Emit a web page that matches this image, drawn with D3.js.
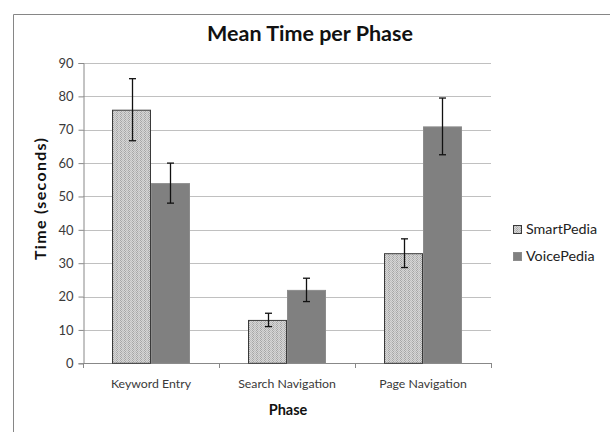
<!DOCTYPE html>
<html><head><meta charset="utf-8">
<script src="https://cdn.jsdelivr.net/npm/d3@7"></script>
<style>body{margin:0;background:#fff}svg{display:block}text{font-family:Lato,"Open Sans",sans-serif}</style>
</head><body>
<script>
const categories = ["Keyword Entry", "Search Navigation", "Page Navigation"];
const seriesNames = ["SmartPedia", "VoicePedia"];
const smartPedia = [76, 13, 33];
const voicePedia = [54, 22, 71];
const smartErr = [9.3, 2, 4.3];
const voiceErr = [6, 3.5, 8.5];
const yTicks = [0, 10, 20, 30, 40, 50, 60, 70, 80, 90];

const W = 610, H = 432;
const svg = d3.select("body").append("svg").attr("width", W).attr("height", H);
const defs = svg.append("defs");
const pat = defs.append("pattern").attr("id", "hatch").attr("patternUnits", "userSpaceOnUse")
  .attr("width", 4).attr("height", 4);
pat.append("rect").attr("width", 4).attr("height", 4).attr("fill", "#d6d6d6");
[[0,0],[1,1],[0,2],[1,3],[2,0],[3,1],[2,2],[3,3]].forEach(([px, py], k) => {
  pat.append("rect").attr("x", px).attr("y", py).attr("width", 1).attr("height", 1).attr("fill", k < 4 ? "#a6a6a6" : "#bdbdbd");
});

// frame
svg.append("path").attr("d", `M13.5,${H}V14.5H${W}`).attr("fill", "none").attr("stroke", "#868686").attr("stroke-width", 1);

const x0 = 83, x1 = 491, yTop = 63, yBot = 363.3;
const x = d3.scaleBand().domain(categories).range([x0, x1]).paddingInner(0).paddingOuter(0);
const y = d3.scaleLinear().domain([0, 90]).range([yBot, yTop]);

// gridlines
svg.append("g").selectAll("line").data(yTicks.slice(1)).join("line")
  .attr("x1", x0).attr("x2", x1).attr("y1", d => Math.round(y(d)) + 0.5).attr("y2", d => Math.round(y(d)) + 0.5)
  .attr("stroke", "#c0c0c0").attr("stroke-width", 1);

// y axis
const yAxis = d3.axisLeft(y).tickValues(yTicks).tickSize(5).tickPadding(5);
const gy = svg.append("g").attr("transform", `translate(${x0 + 0.5},0)`).call(yAxis);
gy.select(".domain").attr("stroke", "#888");
gy.selectAll(".tick line").attr("stroke", "#888");
gy.selectAll(".tick text").attr("font-size", 13).attr("fill", "#3a3a3a").attr("font-family", "Lato,sans-serif");

// x axis line
svg.append("line").attr("x1", x0).attr("x2", x1).attr("y1", Math.round(yBot) + 0.5).attr("y2", Math.round(yBot) + 0.5).attr("stroke", "#888");
svg.append("g").selectAll("line").data(d3.range(categories.length + 1)).join("line")
  .attr("x1", i => Math.round(x0 + i * x.bandwidth()) + 0.5).attr("x2", i => Math.round(x0 + i * x.bandwidth()) + 0.5)
  .attr("y1", Math.round(yBot)).attr("y2", Math.round(yBot) + 5).attr("stroke", "#888");
svg.append("g").selectAll("text").data(categories).join("text")
  .attr("x", d => x(d) + x.bandwidth() / 2).attr("y", 388).attr("text-anchor", "middle")
  .attr("font-size", 12.3).attr("fill", "#3a3a3a").text(d => d);

const xs = d3.scaleBand().domain(seriesNames).range([0, x.bandwidth()]).paddingOuter(0.744).paddingInner(0);
const series = [
  {name: "SmartPedia", vals: smartPedia, err: smartErr, fill: "url(#hatch)", stroke: "#3a3a3a"},
  {name: "VoicePedia", vals: voicePedia, err: voiceErr, fill: "#808080", stroke: "#8c8c8c"}
];
series.forEach(s => {
  const g = svg.append("g");
  g.selectAll("rect").data(categories).join("rect")
    .attr("x", d => x(d) + xs(s.name) + 0.5).attr("width", xs.bandwidth() - 1)
    .attr("y", (d, i) => y(s.vals[i]) + 0.5).attr("height", (d, i) => yBot - y(s.vals[i]) - 0.5)
    .attr("fill", s.fill).attr("stroke", s.stroke).attr("stroke-width", 1);
  categories.forEach((c, i) => {
    const cx = Math.round(x(c) + xs(s.name) + xs.bandwidth() / 2) + 0.5;
    const t = y(s.vals[i] + s.err[i]), b = y(s.vals[i] - s.err[i]);
    g.append("line").attr("x1", cx).attr("x2", cx).attr("y1", t).attr("y2", b).attr("stroke", "#111").attr("stroke-width", 1.3);
    [t, b].forEach(yy => g.append("line").attr("x1", cx - 3.5).attr("x2", cx + 3.5).attr("y1", yy).attr("y2", yy).attr("stroke", "#111").attr("stroke-width", 1.3));
  });
});

// title
svg.append("text").attr("x", 310).attr("y", 41).attr("text-anchor", "middle").attr("font-size", 21.5).attr("font-weight", "bold").attr("fill", "#111").text("Mean Time per Phase");
// axis titles
svg.append("text").attr("transform", "translate(46,199) rotate(-90)").attr("text-anchor", "middle").attr("font-size", 16).attr("font-weight", "bold").attr("fill", "#111")
  .attr("textLength", 122).attr("lengthAdjust", "spacing").text("Time (seconds)");
svg.append("text").attr("x", 288).attr("y", 415).attr("text-anchor", "middle").attr("font-size", 14.5).attr("font-weight", "bold").attr("fill", "#111").text("Phase");

// legend
const lg = svg.append("g");
series.forEach((s, i) => {
  const ly = 229 + i * 27;
  lg.append("rect").attr("x", 513.5).attr("y", ly - 3.5).attr("width", 8).attr("height", 8).attr("fill", s.fill).attr("stroke", s.stroke);
  lg.append("text").attr("x", 526).attr("y", ly + 5).attr("font-size", 14.3).attr("fill", "#222").text(s.name);
});
</script>
</body></html>
